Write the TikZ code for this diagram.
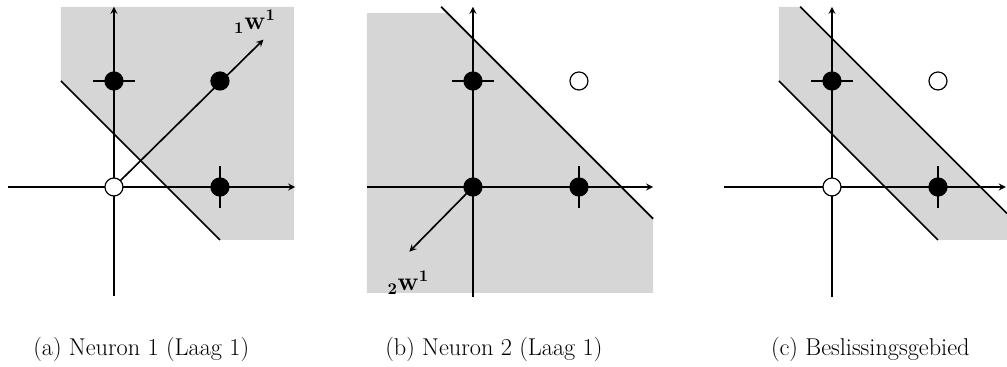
\documentclass[tikz,border=0pt]{standalone}
\usepackage{amsmath}
\usetikzlibrary{arrows}

\tikzset{
  fdot/.style={circle, fill=black, draw=black, line width=0.8pt, minimum size=0.425cm, inner sep=0pt},
  odot/.style={circle, fill=white, draw=black, line width=0.8pt, minimum size=0.425cm, inner sep=0pt},
  axis/.style={->, line width=1.1pt},
  border/.style={line width=1.1pt},
  tick/.style={line width=1.1pt},
  region/.style={fill=black!16, draw=none},
  bigtext/.style={font=\fontsize{16.3}{19}\selectfont}
}

\begin{document}
\begin{tikzpicture}[line cap=butt, line join=round, >=stealth, x=2.5cm, y=2.5cm]
  % Window of the whole figure
  \useasboundingbox (-1.075,-1.698) rectangle (8.425,1.764);
  \def\dx{3.387}
  \def\tk{0.2}

  % ---------- (a) Neuron 1 ----------
  \begin{scope}
    % region x+y > 1/2
    \fill[region] (-0.5,1.0) -- (-0.5,1.7) -- (1.7,1.7) -- (1.7,-0.5) -- (1.0,-0.5) -- cycle;
    % Axes
    \draw[axis] (-1.0,0) -- (1.71,0);
    \draw[axis] (0,-1.03) -- (0,1.7);
    % Decision line
    \draw[border] (-0.5,1.0) -- (1.0,-0.5);
    % Weight vector
    \coordinate (o1) at (0,0);
    \coordinate (w1tip) at (1.41,1.39);
    \draw[->, line width=1.1pt] (o1) -- (w1tip);
    \node[bigtext] (w1lab) at (1.33,1.56) {$\boldsymbol{{}_1\mathbf{w}^1}$};
    % Ticks
    \draw[tick] (-\tk,1) -- (\tk,1);
    \draw[tick] (1,-\tk) -- (1,\tk);
    % Points
    \node[odot] (p1a) at (0,0) {};
    \node[fdot] (p1b) at (0,1) {};
    \node[fdot] (p1c) at (1,1) {};
    \node[fdot] (p1d) at (1,0) {};
  \end{scope}

  % ---------- (b) Neuron 2 ----------
  \begin{scope}[xshift=\dx*2.5cm]
    % region x+y < 1.4
    \fill[region] (-1.0,-1.0) -- (-1.0,1.64) -- (-0.24,1.64) -- (1.7,-0.3) -- (1.7,-1.0) -- cycle;
    % Axes
    \draw[axis] (-1.0,0) -- (1.7,0);
    \draw[axis] (0,-1.04) -- (0,1.7);
    % Decision line
    \draw[border] (-0.3,1.7) -- (1.7,-0.3);
    % Weight vector
    \coordinate (o2) at (0,0);
    \coordinate (w2tip) at (-0.6,-0.61);
    \draw[->, line width=1.1pt] (o2) -- (w2tip);
    \node[bigtext] (w2lab) at (-0.61,-0.9) {$\boldsymbol{{}_2\mathbf{w}^1}$};
    % Ticks
    \draw[tick] (-\tk,1) -- (\tk,1);
    \draw[tick] (1,-\tk) -- (1,\tk);
    % Points
    \node[fdot] (p2a) at (0,0) {};
    \node[fdot] (p2b) at (0,1) {};
    \node[odot] (p2c) at (1,1) {};
    \node[fdot] (p2d) at (1,0) {};
  \end{scope}

  % ---------- (c) Decision region ----------
  \begin{scope}[xshift=2*\dx*2.5cm]
    % band 1/2 < x+y < 1.4
    \fill[region] (-0.5,1.0) -- (-0.5,1.7) -- (-0.3,1.7) -- (1.65,-0.25) -- (1.65,-0.5) -- (1.0,-0.5) -- cycle;
    % Axes
    \draw[axis] (-1.02,0) -- (1.64,0);
    \draw[axis] (0,-1.04) -- (0,1.7);
    % Both decision lines
    \draw[border] (-0.3,1.7) -- (1.65,-0.25);
    \draw[border] (-0.5,1.0) -- (1.0,-0.5);
    % Ticks
    \draw[tick] (-\tk,1) -- (\tk,1);
    \draw[tick] (1,-\tk) -- (1,\tk);
    % Points
    \node[odot] (p3a) at (0,0) {};
    \node[fdot] (p3b) at (0,1) {};
    \node[odot] (p3c) at (1,1) {};
    \node[fdot] (p3d) at (1,0) {};
  \end{scope}

  % Captions
  \node[bigtext, anchor=base west, inner sep=0pt] (capa) at (-0.764,-1.594) {(a) Neuron 1 (Laag 1)};
  \node[bigtext, anchor=base west, inner sep=0pt] (capb) at (2.557,-1.594) {(b) Neuron 2 (Laag 1)};
  \node[bigtext, anchor=base east, inner sep=0pt] (capc) at (8.075,-1.594) {(c) Beslissingsgebied};
\end{tikzpicture}
\end{document}
